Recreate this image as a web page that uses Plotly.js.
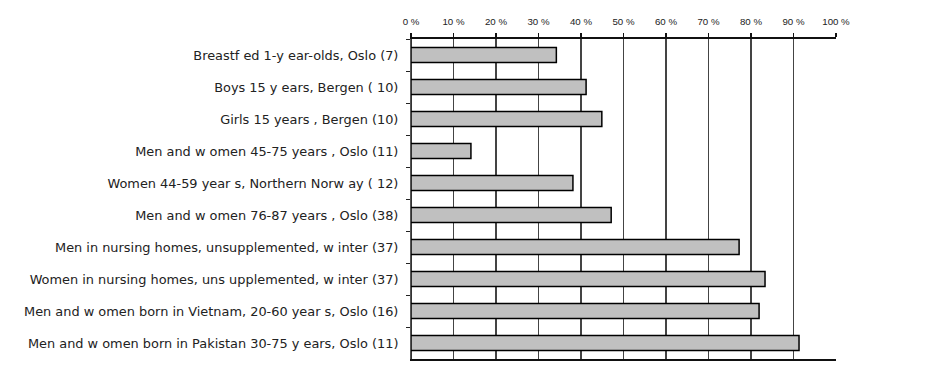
<!DOCTYPE html>
<html>
<head>
<meta charset="utf-8">
<script src="https://cdn.plot.ly/plotly-3.0.1.min.js"></script>
<style>html,body{margin:0;padding:0;background:#fff;}#chart{width:940px;height:387px;}</style>
</head>
<body>
<div id="chart"></div>
<script>
const categories = [
  "Breastf ed 1-y ear-olds, Oslo (7)",
  "Boys 15 y ears, Bergen ( 10)",
  "Girls 15 years , Bergen (10)",
  "Men and w omen 45-75 years , Oslo (11)",
  "Women 44-59 year s, Northern Norw ay ( 12)",
  "Men and w omen 76-87 years , Oslo (38)",
  "Men in nursing homes, unsupplemented, w inter (37)",
  "Women in nursing homes, uns upplemented, w inter (37)",
  "Men and w omen born in Vietnam, 20-60 year s, Oslo (16)",
  "Men and w omen born in Pakistan 30-75 y ears, Oslo (11)"
];
const values = [34.2, 41.2, 44.9, 14.1, 38.1, 47.1, 77.2, 83.3, 81.9, 91.3];
const tickValues = [0, 10, 20, 30, 40, 50, 60, 70, 80, 90, 100];
const tickLabels = ["0 %", "10 %", "20 %", "30 %", "40 %", "50 %", "60 %", "70 %", "80 %", "90 %", "100 %"];

const trace = {
  type: "bar",
  orientation: "h",
  x: values,
  y: categories,
  marker: {color: "#c0c0c0", line: {color: "#000", width: 1.5}},
  hoverinfo: "x+y"
};

const layout = {
  width: 940, height: 387,
  margin: {l: 411, r: 104, t: 39, b: 28},
  paper_bgcolor: "#fff", plot_bgcolor: "#fff",
  showlegend: false,
  bargap: 0.53,
  font: {family: "DejaVu Sans, sans-serif", color: "#222"},
  xaxis: {
    side: "top",
    range: [0, 100],
    tickvals: tickValues,
    ticktext: tickLabels,
    tickfont: {family: "Liberation Sans, Arial, sans-serif", size: 9.7, color: "#222"},
    ticklabelstandoff: 4,
    ticks: "outside", ticklen: 4, tickcolor: "#111", tickwidth: 1.5,
    showline: true, linecolor: "#111", linewidth: 2, mirror: true,
    showgrid: true, gridcolor: "#444", gridwidth: 1.5,
    zeroline: true, zerolinecolor: "#333", zerolinewidth: 1.5,
    fixedrange: true
  },
  yaxis: {
    type: "category",
    categoryorder: "array", categoryarray: categories,
    range: [9.5, -0.5],
    tickfont: {size: 12.9, color: "#222"},
    ticklabelstandoff: 9,
    ticks: "outside", tickson: "boundaries", ticklen: 4, tickcolor: "#222", tickwidth: 1,
    showline: true, linecolor: "#555", linewidth: 1,
    showgrid: false, zeroline: false,
    fixedrange: true
  }
};

Plotly.newPlot("chart", [trace], layout, {displayModeBar: false, staticPlot: true});
</script>
</body>
</html>
